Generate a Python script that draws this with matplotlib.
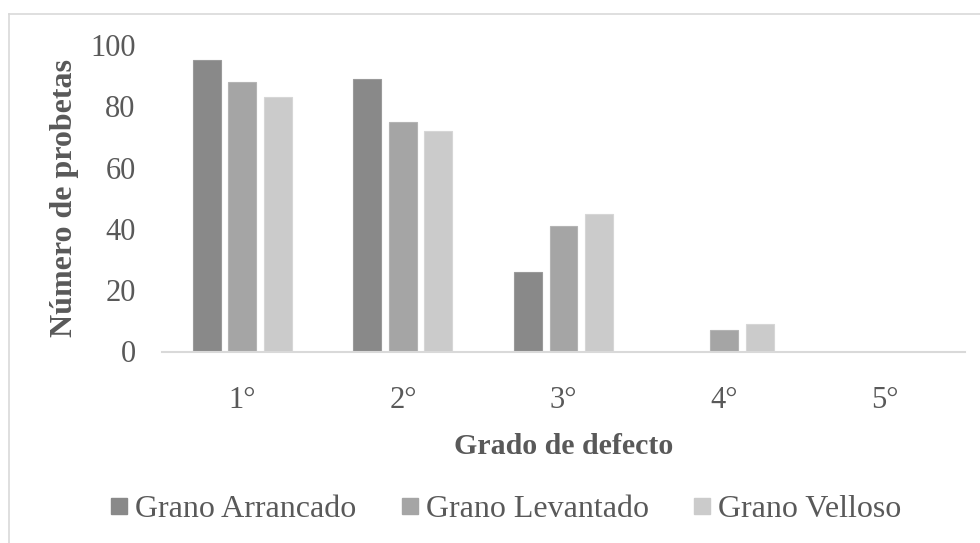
import numpy as np
import matplotlib as mpl
import matplotlib.pyplot as plt
from matplotlib.lines import Line2D

mpl.rc('font', family='Liberation Serif', size=22)

grados = ['1°', '2°', '3°', '4°', '5°']
series = ['Grano Arrancado', 'Grano Levantado', 'Grano Velloso']
arrancado = [95, 89, 26, 0, 0]
levantado = [88, 75, 41, 7, 0]
velloso = [83, 72, 45, 9, 0]
colores = ['#898989', '#a5a5a5', '#cbcbcb']
bordes = ['#9a9a9a', '#b4b4b4', '#d6d6d6']

textcolor = '#595959'

W, H = 980, 543
fig = plt.figure(figsize=(W / 100, H / 100), dpi=100)
ax = fig.add_axes([162 / W, 1 - 351.5 / H, (965 - 162) / W, (351.5 - 45) / H])

x = np.arange(len(grados))
width = 0.174
step = 0.221
for k, (vals, c, e) in enumerate(zip([arrancado, levantado, velloso], colores, bordes)):
    ax.bar(x + (k - 1) * step, vals, width, color=c, edgecolor=e, linewidth=0.8,
           label=series[k], zorder=2)

ax.set_xlim(-0.5, len(grados) - 0.5)
ax.set_ylim(0, 100)
ax.set_yticks(np.arange(0, 101, 20))
ax.set_xticks(x)
ax.set_xticklabels(grados)
ax.tick_params(length=0, colors=textcolor, labelsize=22)
ax.tick_params(axis='x', pad=25)
ax.tick_params(axis='y', pad=19)
for s in ['top', 'right', 'left']:
    ax.spines[s].set_visible(False)
ax.spines['bottom'].set_color('#d9d9d9')
ax.spines['bottom'].set_linewidth(1.5)

ax.set_xlabel('Grado de defecto', fontweight='bold', color=textcolor, fontsize=21.5, labelpad=13)
ax.set_ylabel('Número de probetas', fontweight='bold', color=textcolor, fontsize=23, labelpad=8)

handles = [Line2D([], [], marker='s', linestyle='none', markersize=11.5,
                  markerfacecolor=c, markeredgecolor=c) for c in colores]
fig.legend(handles, series, loc='center', bbox_to_anchor=(506 / W, 1 - 509 / H),
           ncol=3, frameon=False, fontsize=23, labelcolor=textcolor,
           handlelength=0.52, handletextpad=0.25, columnspacing=1.4)

# chart frame (right and bottom sides fall outside the image)
fig.add_artist(Line2D([9 / W, 1.0], [1 - 13.5 / H] * 2, color='#d9d9d9', linewidth=1.2))
fig.add_artist(Line2D([9 / W] * 2, [0.0, 1 - 13.5 / H], color='#d9d9d9', linewidth=1.2))

fig.savefig('out.png', dpi=100)
